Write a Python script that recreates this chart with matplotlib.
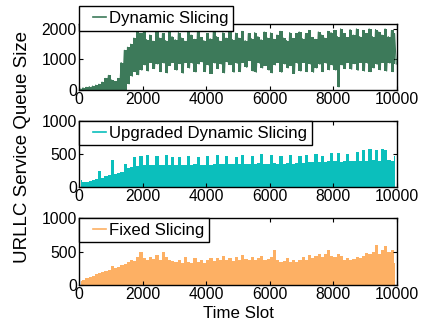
import numpy as np
import matplotlib
matplotlib.use("Agg")
import matplotlib.pyplot as plt
from matplotlib.legend_handler import HandlerLine2D

plt.rcParams['font.family'] = ['Liberation Sans', 'DejaVu Sans']
plt.rcParams['font.size'] = 11.3

# time slots, one value per 100-slot bin
slots = np.arange(50, 10000, 100)

dyn_hi = [40, 70, 90, 110, 130, 160, 190, 260, 380, 480,
          330, 280, 380, 900, 1300, 1400, 1500, 1700, 1950, 1850,
          1900, 1650, 1800, 1600, 1950, 1700, 1850, 1620, 1900, 1750,
          1650, 1880, 1700, 1600, 1920, 1800, 1660, 1900, 1720, 1620,
          1850, 1680, 1950, 1750, 1600, 1880, 1700, 1900, 1650, 1860,
          1700, 1920, 1620, 1850, 1680, 1880, 1750, 1650, 1900, 1700,
          1870, 1660, 1800, 1920, 1700, 1620, 1880, 1690, 1850, 1900,
          1680, 1850, 1950, 1720, 1660, 1900, 1800, 1700, 1920, 1880,
          1950, 1750, 2000, 1850, 1720, 1980, 1800, 2000, 1750, 1950,
          1850, 2000, 1750, 1980, 1900, 1800, 2000, 1750, 1950, 1850]
dyn_lo = [0, 0, 0, 0, 0, 0, 0, 0, 0, 0,
          0, 0, 0, 0, 0, 200, 450, 600, 500, 650,
          820, 620, 900, 700, 850, 600, 880, 560, 800, 900,
          650, 860, 550, 900, 720, 880, 590, 850, 920, 600,
          820, 540, 880, 700, 850, 560, 920, 830, 580, 870,
          600, 900, 740, 960, 620, 580, 880, 720, 800, 650,
          560, 820, 900, 580, 850, 720, 800, 540, 880, 620,
          900, 600, 850, 580, 720, 840, 600, 880, 660, 820,
          650, 100, 820, 700, 900, 680, 860, 640, 900, 620,
          880, 600, 720, 840, 660, 900, 620, 880, 600, 850]

upg_hi = [110, 70, 80, 95, 105, 120, 250, 140, 165, 180,
          410, 200, 215, 230, 350, 290, 300, 460, 320, 470,
          330, 480, 340, 330, 470, 335, 330, 490, 340, 460,
          335, 450, 330, 340, 470, 330, 345, 460, 335, 330,
          470, 340, 350, 480, 345, 350, 470, 355, 350, 460,
          350, 480, 345, 355, 470, 350, 360, 500, 350, 355,
          480, 360, 350, 470, 355, 360, 480, 355, 365, 470,
          370, 490, 380, 375, 500, 385, 470, 380, 390, 510,
          390, 520, 385, 395, 500, 390, 400, 530, 395, 560,
          400, 570, 410, 560, 400, 580, 560, 410, 400, 470]

fix_hi = [60, 80, 100, 120, 140, 160, 175, 195, 210, 230,
          280, 250, 270, 300, 320, 340, 380, 360, 420, 500,
          400, 380, 420, 390, 450, 380, 490, 420, 380, 360,
          340, 380, 330, 420, 350, 330, 400, 340, 370, 330,
          380, 410, 360, 400, 380, 430, 370, 400, 360, 420,
          380, 450, 390, 370, 420, 380, 400, 440, 370, 390,
          420, 520, 380, 350, 360, 400, 340, 370, 350, 380,
          420, 380, 450, 400, 430, 470, 420, 460, 520, 440,
          420, 460, 430, 380, 400, 380, 390, 420, 400, 430,
          480, 460, 500, 600, 470, 520, 580, 500, 520, 330]

labels = ['Dynamic Slicing', 'Upgraded Dynamic Slicing', 'Fixed Slicing']
colors = ['#3d7a5a', '#0bbfbc', '#fdb064']


class ShortLine(HandlerLine2D):
    # legend line drawn only on the right part of the handle box
    def create_artists(self, *args, **kwargs):
        arts = super().create_artists(*args, **kwargs)
        for a in arts:
            xd = np.asarray(a.get_xdata(), float)
            if len(xd) >= 2:
                x0 = xd[0] + 0.42 * (xd[-1] - xd[0])
                a.set_xdata(np.linspace(x0, xd[-1], len(xd)))
        return arts


fig = plt.figure(figsize=(4.26, 3.24), dpi=100)
W, H = 426, 324
boxes = [(24, 90), (121, 187), (218, 285)]  # top/bottom in pixels
axes = [fig.add_axes([79 / W, 1 - b / H, 318 / W, (b - t) / H]) for t, b in boxes]

ax1, ax2, ax3 = axes
# noisy queue trace: solid band between low and high of each bin,
# plus the swing line for the ragged edges
ax1.fill_between(slots, dyn_lo, dyn_hi, step='mid', color=colors[0], lw=0)
xs = np.ravel(np.column_stack([slots - 25, slots + 25]))
ys = np.ravel(np.column_stack([dyn_hi, dyn_lo]))
ax1.plot(xs, ys, color=colors[0], lw=0.8)
ax2.fill_between(slots, 0, upg_hi, step='mid', color=colors[1], lw=0)
ax3.fill_between(slots, 0, fix_hi, step='mid', color=colors[2], lw=0)

ax1.set_ylim(0, 2160)
ax1.set_yticks([0, 1000, 2000])
for ax in (ax2, ax3):
    ax.set_ylim(0, 1000)
    ax.set_yticks([0, 500, 1000])

anchors = [1.27, 1.0, 1.0]
for ax, lab, c, a in zip(axes, labels, colors, anchors):
    ax.set_xlim(0, 10000)
    ax.set_xticks([0, 2000, 4000, 6000, 8000, 10000])
    ax.tick_params(direction='in', top=True, right=True, length=3, width=0.8, pad=1.5)
    for s in ax.spines.values():
        s.set_linewidth(1)
        s.set_zorder(4)
    ax.plot([], [], color=c, lw=1.2, label=lab)
    leg = ax.legend(loc='upper left', bbox_to_anchor=(0, a), borderaxespad=0,
                    fancybox=False, framealpha=1, edgecolor='black',
                    handlelength=1.3, handletextpad=0.2, borderpad=0.28,
                    fontsize=12.1, handler_map={plt.Line2D: ShortLine()})
    leg.get_frame().set_linewidth(1)
    leg.set_zorder(5)

fig.text(23 / W, 1 - 147 / H, 'URLLC Service Queue Size', rotation=90,
         ha='center', va='center', fontsize=13.5)
ax3.set_xlabel('Time Slot', fontsize=12.2, labelpad=3)

fig.savefig('out.png', dpi=100)
